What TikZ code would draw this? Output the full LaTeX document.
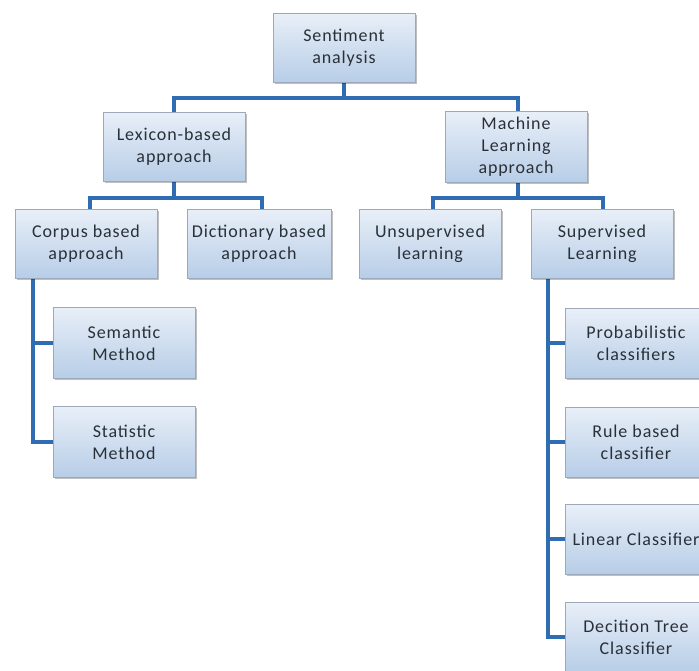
\documentclass[tikz,border=0pt]{standalone}
\usepackage{fontspec}
\setmainfont{Carlito}[LetterSpace=5]
\usetikzlibrary{shadows,backgrounds,calc}
\definecolor{boxtop}{HTML}{E8EFF8}
\definecolor{boxbot}{HTML}{B7CDE7}
\definecolor{boxline}{HTML}{9DA9B8}
\definecolor{conn}{HTML}{2F6CB1}
\definecolor{txt}{HTML}{2A3038}
\tikzset{
  box/.style={draw=boxline, line width=0.9pt, top color=boxtop, bottom color=boxbot,
    minimum width=142pt, minimum height=69pt, align=center, text=txt,
    font=\fontsize{18}{22}\selectfont, inner sep=2pt,
    drop shadow={shadow xshift=1.5pt, shadow yshift=-1.5pt, fill=black, opacity=0.25}},
  link/.style={draw=conn, line width=3.8pt}
}
\begin{document}
\begin{tikzpicture}[x=1pt,y=-1pt]
\useasboundingbox (0,0) rectangle (699,671);
\clip (0,0) rectangle (699,671);
\node[box] (sa) at (344,48) {Sentiment\\analysis};
\node[box] (lex) at (174,147) {Lexicon-based\\approach};
\node[box, minimum height=71pt] (ml) at (516,147) {Machine\\Learning\\approach};
\node[box] (corpus) at (86,244) {Corpus based\\approach};
\node[box, minimum width=144pt] (dict) at (259,244) {Dictionary based\\approach};
\node[box] (unsup) at (430,244) {Unsupervised\\learning};
\node[box] (sup) at (602,244) {Supervised\\Learning};
\node[box, minimum height=71pt] (sem) at (124,343) {Semantic\\Method};
\node[box, minimum height=71pt] (stat) at (124,442) {Statistic\\Method};
\node[box, minimum height=70pt] (prob) at (636,343) {Probabilistic\\classifiers};
\node[box, minimum height=70pt] (rule) at (636,442) {Rule based\\classifier};
\node[box, minimum height=70pt] (lin) at (636,539) {Linear Classifier};
\node[box, minimum height=70pt] (dec) at (636,637) {Decition Tree\\Classifier};
\begin{scope}[on background layer]
\coordinate (b1) at (344,98);
\coordinate (b2) at (174,198);
\coordinate (b3) at (518,198);
\coordinate (lv) at (33,278);
\coordinate (rv) at (548,278);
\draw[link] (sa.south) -- (b1) -| (lex.north);
\draw[link] (b1) -| ([xshift=2pt]ml.north);
\draw[link] (lex.south) -- (b2) -| ([xshift=4pt]corpus.north);
\draw[link] (b2) -| ([xshift=3pt]dict.north);
\draw[link] ([xshift=2pt]ml.south) -- (b3) -| ([xshift=3pt]unsup.north);
\draw[link] (b3) -| ([xshift=1pt]sup.north);
\draw[link] (lv) |- (sem.west);
\draw[link] (lv) |- (stat.west);
\draw[link] (rv) |- (prob.west);
\draw[link] (rv) |- (rule.west);
\draw[link] (rv) |- (lin.west);
\draw[link] (rv) |- (dec.west);
\end{scope}
\end{tikzpicture}
\end{document}
